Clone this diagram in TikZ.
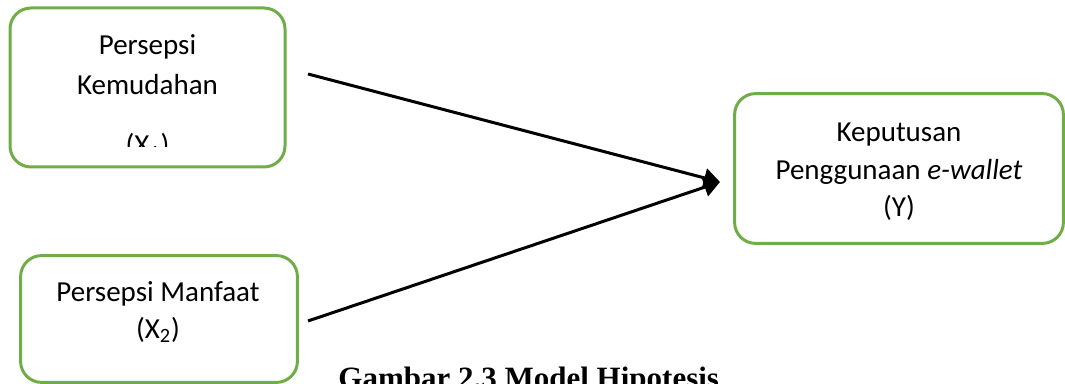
\documentclass[tikz,border=0pt]{standalone}
\usepackage{fontspec}
\setmainfont{Carlito}
\newfontfamily\captionfont{Liberation Serif}
\usetikzlibrary{arrows.meta}
\definecolor{boxgreen}{RGB}{112,173,71}
\tikzset{
  varbox/.style={draw=boxgreen, line width=1.5pt, rounded corners=10.5pt,
    inner sep=0pt, fill=none},
  label/.style={inner sep=0pt, font=\fontsize{14.5}{19}\selectfont},
  link/.style={line width=1.5pt, -{Triangle[length=8pt,width=9.5pt]}}
}
\begin{document}
\begin{tikzpicture}[x=0.5pt, y=-0.5pt]
\useasboundingbox (0,0) rectangle (1065,384);
\clip (0,0) rectangle (1065,384);
% boxes
\draw[varbox] (10,8) rectangle (285,167) coordinate (b1corner);
\node[inner sep=0pt, minimum width=137.5pt, minimum height=79.5pt] (x1) at (147.5,87.5) {};
\node[inner sep=0pt, minimum width=138pt, minimum height=63pt] (x2) at (159,319) {};
\node[inner sep=0pt, minimum width=164pt, minimum height=74.5pt] (y) at (899,168.5) {};
\draw[varbox] (x2.north west) rectangle (x2.south east);
\draw[varbox] (y.north west) rectangle (y.south east);
% texts of the first box; the last line is cut by its text area
\node[label, anchor=base] (t1a) at (147.5,55) {Persepsi};
\node[label, anchor=base] (t1b) at (147.5,94.3) {Kemudahan};
\begin{scope}
  \clip (10,8) rectangle (285,147);
  \node[label, anchor=base] (t1c) at (147.5,155) {(X\textsubscript{1})};
\end{scope}
% texts of the second box
\node[label, anchor=base] (t2a) at (158,301.7) {Persepsi Manfaat};
\node[label, anchor=base] (t2b) at (158,338.5) {(X\textsubscript{2})};
% texts of the dependent variable
\node[label, anchor=base] (t3a) at (899,141.7) {Keputusan};
\node[label, anchor=base] (t3b) at (899,179.3) {Penggunaan \textit{e-wallet}};
\node[label, anchor=base] (t3c) at (899,216.5) {(Y)};
% connectors
\coordinate (s1) at (308,74);
\coordinate (s2) at (308,321);
\coordinate (tip) at (720,182);
\draw[link] (s1) -- (tip);
\draw[link] (s2) -- (tip);
% caption
\node[inner sep=0pt, anchor=base west, font=\captionfont\bfseries\fontsize{15.5}{18}\selectfont] (cap) at (338,389) {Gambar 2.3 Model Hipotesis};
\end{tikzpicture}
\end{document}
